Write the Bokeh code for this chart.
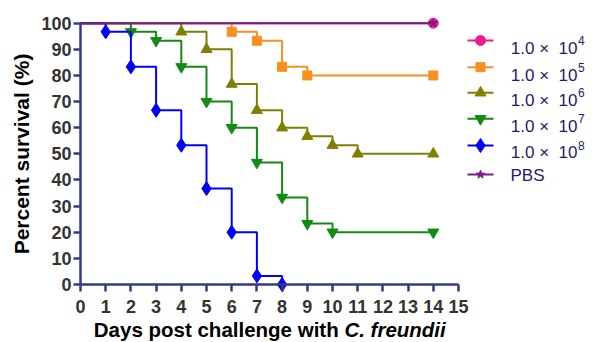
from bokeh.plotting import figure
from bokeh.models import Range1d, FixedTicker, Label
from bokeh.core.properties import value
from bokeh.embed import file_html
from bokeh.resources import INLINE

# ---------------- data ----------------
x_ticks = list(range(0, 16))
y_ticks = list(range(0, 101, 10))

days_1e4 = [0, 14]
surv_1e4 = [100, 100]
days_1e5 = [0, 6, 7, 8, 9, 14]
surv_1e5 = [100, 96.7, 93.3, 83.3, 80, 80]
days_1e6 = [0, 4, 5, 6, 7, 8, 9, 10, 11, 14]
surv_1e6 = [100, 96.7, 90, 76.7, 66.7, 60, 56.7, 53.3, 50, 50]
days_1e7 = [0, 2, 3, 4, 5, 6, 7, 8, 9, 10, 14]
surv_1e7 = [100, 96.7, 93.3, 83.3, 70, 60, 46.7, 33.3, 23.3, 20, 20]
days_1e8 = [0, 1, 2, 3, 4, 5, 6, 7, 8]
surv_1e8 = [100, 96.7, 83.3, 66.7, 53.3, 36.7, 20, 3.3, 0]
days_pbs = [0, 14]
surv_pbs = [100, 100]

legend_base = ["1.0 \u00d7\u00a0\u00a010"] * 5 + ["PBS"]
legend_exp = ["4", "5", "6", "7", "8", ""]

x_label_main = "Days post challenge with"
x_label_species = "C. freundii"
y_label = "Percent survival (%)"

# ---------------- styling / layout ----------------
FONT = "Liberation Sans"
AXIS_COLOR = "#353a86"
TICK_LABEL_COLOR = "#333333"
LEGEND_TEXT_COLOR = "#1c1c6e"

series = [
    (days_1e4, surv_1e4, "#ec1c8c", "circle", 10),
    (days_1e5, surv_1e5, "#f7901e", "square", 9),
    (days_1e6, surv_1e6, "#808000", "triangle", 11),
    (days_1e7, surv_1e7, "#138a13", "inverted_triangle", 11),
    (days_1e8, surv_1e8, "#0000ff", "diamond", 14),
    (days_pbs, surv_pbs, "#7d1a8c", "star", 9),
]

W, H = 595, 342
ORIGIN_X = 80         # canvas x of day 0
PX_PER_DAY = 25.2
Y0_PX = 284           # canvas y of 0 %
Y100_PX = 22.7        # canvas y of 100 %
PX_PER_PCT = (Y0_PX - Y100_PX) / 100.0

x_start = -ORIGIN_X / PX_PER_DAY
x_end = (W - ORIGIN_X) / PX_PER_DAY
y_start = -(H - Y0_PX) / PX_PER_PCT
y_end = Y0_PX / PX_PER_PCT


def dx(cx):
    return (cx - ORIGIN_X) / PX_PER_DAY


def dy(cy):
    return (Y0_PX - cy) / PX_PER_PCT


p = figure(width=W, height=H, x_range=Range1d(x_start, x_end), y_range=Range1d(y_start, y_end),
           output_backend="svg", toolbar_location=None,
           min_border_left=0, min_border_right=0,
           min_border_top=0, min_border_bottom=0)
p.outline_line_color = None
p.grid.visible = False
p.background_fill_color = "white"

for ax in (p.xaxis[0], p.yaxis[0]):
    ax.fixed_location = 0
    ax.axis_line_color = AXIS_COLOR
    ax.axis_line_width = 2.5
    ax.major_tick_line_color = AXIS_COLOR
    ax.major_tick_line_width = 2.5
    ax.major_tick_in = 0
    ax.major_tick_out = 7
    ax.minor_tick_line_color = None
    ax.major_label_text_font = FONT
    ax.major_label_text_font_style = "bold"
    ax.major_label_text_font_size = "18px"
    ax.major_label_text_color = TICK_LABEL_COLOR

p.xaxis.ticker = FixedTicker(ticks=x_ticks)
p.xaxis.bounds = (0, 15)
p.xaxis.major_label_standoff = 8

p.yaxis.ticker = FixedTicker(ticks=y_ticks)
p.yaxis.bounds = (0, 100)
p.yaxis.major_label_standoff = 2
p.yaxis.axis_label = y_label
p.yaxis.axis_label_text_font = FONT
p.yaxis.axis_label_text_font_style = "bold"
p.yaxis.axis_label_text_font_size = "21px"
p.yaxis.axis_label_text_color = "black"
p.yaxis.axis_label_standoff = 5

# curves
for days, surv, color, marker, size in series:
    p.step(days, surv, mode="after", line_color=color, line_width=2)
    p.scatter(days[1:], surv[1:], marker=marker, size=size, fill_color=color, line_color=color)

# legend (drawn manually)
leg_line_y = [40, 66.7, 92.3, 118.3, 145, 174]
leg_text_y = [47.5, 75, 100, 126, 151.7, 175]
LEG_X0, LEG_X1, LEG_XM = 467, 493, 480
TEXT_RIGHT = 577
TEXT_LEFT = 510

for i, (days, surv, color, marker, size) in enumerate(series):
    ly = dy(leg_line_y[i])
    p.segment(x0=[dx(LEG_X0)], y0=[ly], x1=[dx(LEG_X1)], y1=[ly], line_color=color, line_width=2)
    p.scatter([dx(LEG_XM)], [ly], marker=marker, size=size, fill_color=color, line_color=color)

num_rows = [i for i in range(len(legend_base)) if legend_exp[i]]
p.text(x=[dx(TEXT_RIGHT)] * len(num_rows), y=[dy(leg_text_y[i]) for i in num_rows],
       text=[legend_base[i] for i in num_rows], text_font=value(FONT), text_font_size=value("17px"),
       text_color=LEGEND_TEXT_COLOR, text_align="right", text_baseline="middle")
p.text(x=[dx(TEXT_RIGHT + 0.5)] * len(num_rows), y=[dy(leg_line_y[i]) for i in num_rows],
       text=[legend_exp[i] for i in num_rows], text_font=value(FONT), text_font_size=value("12px"),
       text_color=LEGEND_TEXT_COLOR, text_align="left", text_baseline="middle")
p.text(x=[dx(TEXT_LEFT)], y=[dy(leg_text_y[5])], text=[legend_base[5]], text_font=value(FONT),
       text_font_size=value("17px"), text_color=LEGEND_TEXT_COLOR, text_align="left", text_baseline="middle")

# x axis label (mixed upright / italic)
XL_SIZE = "20.5px"
XL_SPLIT = 343.9
XL_SPACE = 5.7
XL_MID = 329
p.add_layout(Label(x=dx(XL_SPLIT - XL_SPACE), y=dy(XL_MID), text=x_label_main, text_font=FONT,
                   text_font_size=XL_SIZE, text_font_style="bold", text_color="black",
                   text_align="right", text_baseline="middle"))
p.add_layout(Label(x=dx(XL_SPLIT), y=dy(XL_MID), text=x_label_species, text_font=FONT,
                   text_font_size=XL_SIZE, text_font_style="bold italic", text_color="black",
                   text_align="left", text_baseline="middle"))

open("out.html", "w").write(file_html(p, INLINE))
